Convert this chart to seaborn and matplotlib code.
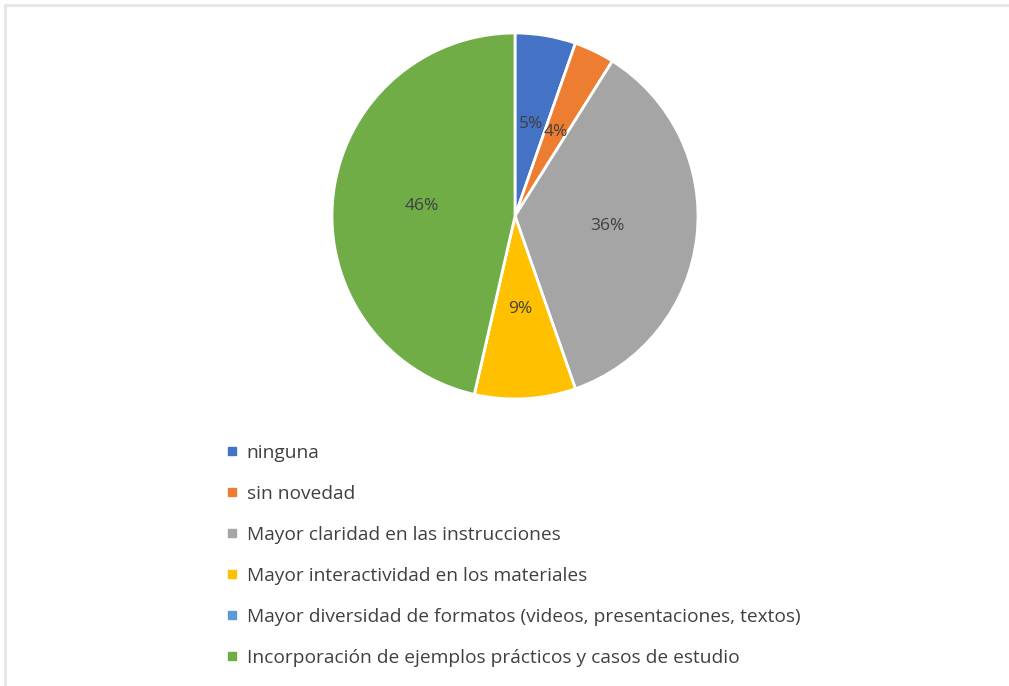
import matplotlib
matplotlib.use("Agg")
import matplotlib.pyplot as plt
from matplotlib.lines import Line2D
import seaborn as sns

# datos (respuestas)
categorias = ["ninguna", "sin novedad", "Mayor claridad en las instrucciones",
              "Mayor interactividad en los materiales",
              "Mayor diversidad de formatos (videos, presentaciones, textos)",
              "Incorporación de ejemplos prácticos y casos de estudio"]
respuestas = [3, 2, 20, 5, 0, 26]
colores = ["#4472C4", "#ED7D31", "#A5A5A5", "#FFC000", "#5B9BD5", "#70AD47"]

sns.set_theme(style="white")
plt.rcParams['font.family'] = ['Open Sans', 'DejaVu Sans']

fig = plt.figure(figsize=(10.09, 6.86), dpi=100)
W, H = 1009, 686
cx, cy, r = 515, 216, 183
ax = fig.add_axes([(cx - r) / W, (H - cy - r) / H, 2 * r / W, 2 * r / H])

wedges, texts, autotexts = ax.pie(
    respuestas, colors=sns.color_palette(colores), startangle=90, counterclock=False,
    autopct=lambda p: f"{p:.0f}%" if p > 0 else "", pctdistance=0.51,
    wedgeprops=dict(edgecolor="white", linewidth=2),
    textprops=dict(color="#404040", fontsize=12.5))
ax.set_xlim(-1, 1)
ax.set_ylim(-1, 1)
ax.set_aspect("equal")

# leyenda
handles = [Line2D([0], [0], marker="s", linestyle="", markersize=5.5,
                  markerfacecolor=c, markeredgecolor=c) for c in colores]
fig.legend(handles, categorias, loc="upper left", bbox_to_anchor=(219 / W, 1 - 436 / H),
           frameon=False, fontsize=13.8, labelcolor="#404040", handlelength=0.6,
           handletextpad=0.45, labelspacing=1.2, borderaxespad=0)

# marco gris claro
fig.add_artist(Line2D([5 / W, 1], [1 - 5 / H, 1 - 5 / H], color="#e6e6e6", lw=2))
fig.add_artist(Line2D([5 / W, 5 / W], [0, 1 - 5 / H], color="#e6e6e6", lw=2))

fig.savefig("out.png", dpi=100, facecolor="white")
